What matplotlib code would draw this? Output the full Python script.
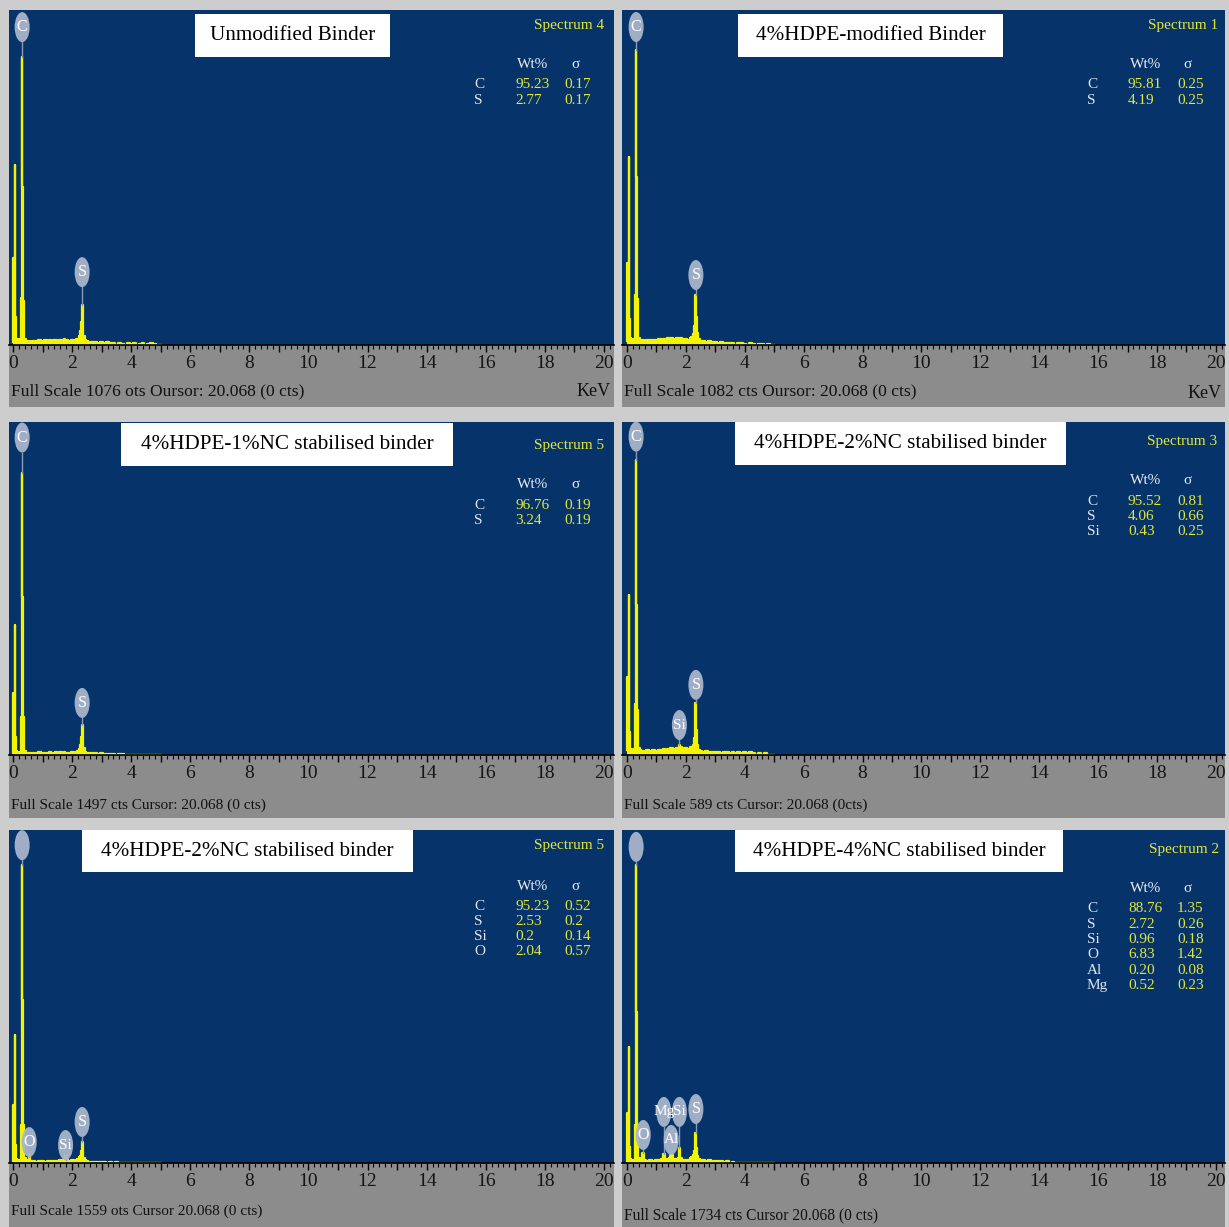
import matplotlib.pyplot as plt
from matplotlib.patches import Rectangle, Ellipse
from matplotlib.ticker import MultipleLocator, FuncFormatter

plt.rcParams['font.family'] = ['Liberation Serif', 'DejaVu Serif']

# ---- data ----
titles = ['Unmodified Binder', '4%HDPE-modified Binder',
          '4%HDPE-1%NC stabilised binder', '4%HDPE-2%NC stabilised binder',
          '4%HDPE-2%NC stabilised binder', '4%HDPE-4%NC stabilised binder']
spectrum_names = ['Spectrum 4', 'Spectrum 1', 'Spectrum 5',
                  'Spectrum 3', 'Spectrum 5', 'Spectrum 2']
full_scale = [1076, 1082, 1497, 589, 1559, 1734]
footers = ['Full Scale 1076 ots Oursor: 20.068 (0 cts)',
           'Full Scale 1082 cts Oursor: 20.068 (0 cts)',
           'Full Scale 1497 cts Cursor: 20.068 (0 cts)',
           'Full Scale 589 cts Cursor: 20.068 (0cts)',
           'Full Scale 1559 ots Cursor 20.068 (0 cts)',
           'Full Scale 1734 cts Cursor 20.068 (0 cts)']
show_kev = [True, True, False, False, False, False]

elements = [['C', 'S'], ['C', 'S'], ['C', 'S'], ['C', 'S', 'Si'],
            ['C', 'S', 'Si', 'O'], ['C', 'S', 'Si', 'O', 'Al', 'Mg']]
wt = [['95.23', '2.77'], ['95.81', '4.19'], ['96.76', '3.24'],
      ['95.52', '4.06', '0.43'], ['95.23', '2.53', '0.2', '2.04'],
      ['88.76', '2.72', '0.96', '6.83', '0.20', '0.52']]
sigma = [['0.17', '0.17'], ['0.25', '0.25'], ['0.19', '0.19'],
         ['0.81', '0.66', '0.25'], ['0.52', '0.2', '0.14', '0.57'],
         ['1.35', '0.26', '0.18', '1.42', '0.08', '0.23']]

# energy channels (keV) and counts per spectrum
energy = [0.00, 0.03, 0.05, 0.07, 0.09, 0.12, 0.16, 0.20, 0.24, 0.27,
          0.29, 0.31, 0.33, 0.35, 0.37, 0.40, 0.45,
          0.50, 0.55, 0.60, 0.70, 0.80, 0.90, 1.00, 1.10, 1.20, 1.25,
          1.30, 1.40, 1.45, 1.50, 1.60, 1.70, 1.74, 1.78, 1.85, 1.90,
          2.00, 2.10, 2.15,
          2.20, 2.25, 2.28, 2.31, 2.34, 2.37, 2.40, 2.45, 2.50, 2.60,
          2.70, 2.80, 2.90, 3.00, 3.10, 3.20, 3.30, 3.40, 3.50, 3.60,
          3.70, 3.80, 3.90, 4.00, 4.10, 4.20, 4.30, 4.40, 4.50, 4.60,
          4.70, 4.80, 4.90, 5.00]

counts_1 = [10, 280, 60, 578, 90, 20, 16, 15, 18, 40, 150, 925, 507, 140, 40, 20, 12,
            10, 13, 11, 14, 12, 15, 13, 16, 14, 17, 13, 15, 16, 14, 17, 15, 18, 14, 16, 13, 15, 14, 20,
            20, 28, 45, 75, 128, 65, 30, 16, 12, 10, 9, 11, 7, 9, 8, 9, 5, 6, 0, 5,
            4, 0, 6, 3, 5, 0, 4, 5, 0, 4, 5, 3, 0, 0]
counts_2 = [12, 265, 55, 607, 85, 22, 18, 16, 20, 45, 160, 953, 543, 150, 45, 22, 14,
            12, 15, 14, 16, 15, 17, 16, 18, 17, 20, 18, 21, 19, 22, 20, 23, 21, 19, 22, 18, 20, 17, 24,
            25, 35, 60, 100, 162, 90, 40, 20, 14, 12, 10, 12, 9, 10, 8, 9, 7, 8, 5, 6,
            0, 5, 6, 4, 0, 5, 4, 0, 3, 4, 0, 3, 0, 0]
counts_3 = [10, 279, 50, 584, 80, 18, 12, 10, 14, 40, 170, 1268, 710, 170, 45, 20, 10,
            8, 10, 9, 11, 9, 12, 10, 11, 9, 12, 10, 11, 12, 10, 13, 11, 12, 10, 11, 9, 12, 10, 15,
            18, 25, 45, 80, 135, 70, 30, 12, 9, 8, 7, 9, 6, 7, 5, 6, 4, 5, 0, 4,
            5, 0, 0, 0, 0, 0, 0, 0, 0, 0, 0, 0, 0, 0]
counts_4 = [8, 138, 30, 283, 40, 10, 8, 7, 10, 25, 90, 522, 265, 80, 25, 12, 8,
            6, 7, 6, 8, 7, 8, 7, 9, 8, 10, 9, 11, 10, 12, 11, 13, 12, 18, 14, 11, 12, 11, 15,
            14, 18, 30, 50, 92, 45, 18, 9, 7, 6, 7, 5, 6, 5, 6, 4, 5, 6, 4, 5,
            4, 5, 4, 5, 4, 5, 3, 0, 3, 0, 3, 0, 0, 0]
counts_5 = [10, 272, 50, 600, 85, 20, 14, 12, 15, 45, 180, 1395, 763, 180, 50, 22, 12,
            10, 40, 8, 9, 7, 8, 9, 7, 10, 8, 9, 10, 11, 9, 14, 12, 10, 37, 16, 10, 12, 10, 15,
            20, 30, 35, 55, 98, 50, 22, 12, 9, 7, 6, 5, 7, 4, 5, 0, 4, 0, 3, 0,
            0, 0, 0, 0, 0, 0, 0, 0, 0, 0, 0, 0, 0, 0]
counts_6 = [12, 260, 50, 604, 85, 22, 16, 14, 18, 50, 200, 1550, 786, 190, 55, 25, 14,
            12, 52, 14, 12, 14, 13, 15, 17, 20, 45, 18, 20, 24, 42, 20, 22, 26, 78, 24, 18, 16, 18, 24,
            30, 40, 60, 90, 156, 80, 35, 20, 15, 14, 12, 14, 10, 12, 8, 10, 6, 8, 0, 5,
            0, 0, 0, 0, 0, 0, 0, 0, 0, 0, 0, 0, 0, 0]
counts = [counts_1, counts_2, counts_3, counts_4, counts_5, counts_6]

# peak markers: (element, energy keV, height of marker centre in counts)
peak_labels = [
    [('C', 0.31, 1021), ('S', 2.34, 234)],
    [('C', 0.31, 1027), ('S', 2.34, 226)],
    [('C', 0.31, 1427), ('S', 2.34, 234)],
    [('C', 0.31, 563), ('Si', 1.78, 53), ('S', 2.34, 124)],
    [('', 0.31, 1488), ('O', 0.55, 98), ('Si', 1.78, 84), ('S', 2.34, 192)],
    [('', 0.31, 1646), ('O', 0.55, 146), ('Mg', 1.25, 266), ('Al', 1.50, 120),
     ('Si', 1.78, 266), ('S', 2.34, 281)],
]

# ---- layout (pixels) ----
W, H = 1229, 1227
BLUE = '#06346a'
YELLOW = '#f4f400'
TXT_YELLOW = '#e2e63a'
FOOT = '#8c8c8c'

cols = [(9, 614, -0.135, 20.34), (622, 1225, -0.17, 20.31)]
rows = [(10, 345, 407), (422, 755, 818), (830, 1163, 1227)]
title_boxes = [(195, 14, 390, 57), (738, 14, 1003, 57), (121, 423, 453, 466),
               (735, 422, 1066, 465), (82, 830, 413, 872), (735, 830, 1063, 872)]
table_top = [55, 55, 63, 59, 56, 59]
spec_y = [16, 16, 23, 20, 16, 19]
spec_right = [10, 7, 10, 8, 10, 6]
footer_y = [391, 391, 805, 805, 1211, 1215]
footer_size = [12.6, 12.6, 11, 11, 11, 11.2]


def fx(x):
    return x / W


def fy(y):
    return 1 - y / H


fig = plt.figure(figsize=(12.29, 12.27), dpi=100)
fig.patch.set_facecolor('#cdcdcd')

for i in range(6):
    x0, x1, xmin, xmax = cols[i % 2]
    top, axis_y, bottom = rows[i // 2]
    fs = full_scale[i]
    kx = (x1 - x0) / (xmax - xmin)          # px per keV
    ky = fs / (axis_y - top)                # counts per px

    # grey footer strip (behind the axes so tick labels stay visible)
    fig.patches.append(Rectangle((fx(x0), fy(bottom)), (x1 - x0) / W, (bottom - axis_y) / H,
                                 transform=fig.transFigure, facecolor=FOOT,
                                 edgecolor='none', zorder=-1))

    ax = fig.add_axes([fx(x0), fy(axis_y), (x1 - x0) / W, (axis_y - top) / H])
    ax.set_facecolor(BLUE)
    ax.set_xlim(xmin, xmax)
    ax.set_ylim(0, fs)
    for s in ['top', 'left', 'right']:
        ax.spines[s].set_visible(False)
    ax.spines['bottom'].set_color('black')
    ax.spines['bottom'].set_linewidth(1.2)
    ax.set_yticks([])
    ax.xaxis.set_major_locator(MultipleLocator(1))
    ax.xaxis.set_minor_locator(MultipleLocator(0.2))
    ax.xaxis.set_major_formatter(FuncFormatter(
        lambda v, p: str(int(round(v))) if int(round(v)) % 2 == 0 else ''))
    ax.tick_params(axis='x', which='major', length=5, width=1, color='black',
                   pad=2, labelsize=14, labelcolor='#151515')
    ax.tick_params(axis='x', which='minor', length=3, width=0.8, color='black')

    # spectrum
    ax.fill_between(energy, counts[i], step='mid', color=YELLOW, lw=0)
    ax.step(energy, counts[i], where='mid', color=YELLOW, lw=1.6)

    # peak markers
    ew = 15 / kx
    eh = 30 * ky
    for el, e, yc in peak_labels[i]:
        peak = counts[i][energy.index(e)]
        ax.plot([e, e], [peak, yc - eh / 2], color='#8a9ab4', lw=1)
        ax.add_patch(Ellipse((e, yc), ew, eh, facecolor='#a9b6cb',
                             edgecolor='none', alpha=0.95, clip_on=False, zorder=5))
        if el:
            ax.text(e, yc, el, color='white', fontsize=11.5 if len(el) == 1 else 11,
                    ha='center', va='center', zorder=6)

    # title box
    bx0, by0, bx1, by1 = title_boxes[i]
    fig.patches.append(Rectangle((fx(bx0), fy(by1)), (bx1 - bx0) / W, (by1 - by0) / H,
                                 transform=fig.transFigure, facecolor='white',
                                 edgecolor='none', zorder=3))
    fig.text(fx((bx0 + bx1) / 2), fy((by0 + by1) / 2), titles[i], fontsize=15.2,
             ha='center', va='center', color='black', zorder=4)

    # spectrum name and quantification table
    fig.text(fx(x1 - spec_right[i]), fy(top + spec_y[i]), spectrum_names[i],
             fontsize=11, color=TXT_YELLOW, ha='right', va='center')
    hy = top + table_top[i]
    fig.text(fx(x0 + 524), fy(hy), 'Wt%', fontsize=11, color='#e8ecf2',
             ha='center', va='center')
    fig.text(fx(x0 + 566), fy(hy), 'σ', fontsize=11, color='#e8ecf2',
             ha='center', va='center')
    for r, el in enumerate(elements[i]):
        ry = hy + 20 + r * 15.3
        fig.text(fx(x0 + 465), fy(ry), el, fontsize=11, color='#dfe5ef',
                 ha='left', va='center')
        fig.text(fx(x0 + 506), fy(ry), wt[i][r], fontsize=11, color=TXT_YELLOW,
                 ha='left', va='center')
        fig.text(fx(x0 + 555), fy(ry), sigma[i][r], fontsize=11, color=TXT_YELLOW,
                 ha='left', va='center')

    # footer text
    fig.text(fx(x0 + 2), fy(footer_y[i]), footers[i], fontsize=footer_size[i],
             color='#111111', ha='left', va='center')
    if show_kev[i]:
        fig.text(fx(x1 - 3), fy(footer_y[i] + (0 if i == 0 else 2)), 'KeV',
                 fontsize=13, color='#111111', ha='right', va='center')

fig.savefig('out.png', dpi=100, facecolor=fig.get_facecolor())
